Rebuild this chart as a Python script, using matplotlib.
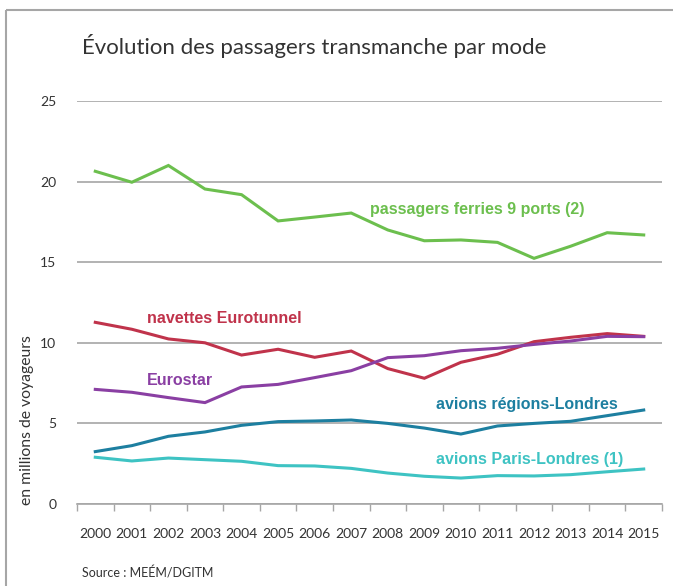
import numpy as np
import matplotlib.pyplot as plt
from matplotlib.lines import Line2D

# --- data ---
years = [str(y) for y in range(2000, 2016)]
ferries = [20.64, 19.96, 21.0, 19.54, 19.19, 17.56, 17.8, 18.05, 17.0, 16.33,
           16.38, 16.23, 15.24, 15.99, 16.83, 16.69]
eurotunnel = [11.27, 10.84, 10.24, 10.0, 9.24, 9.6, 9.1, 9.49, 8.4, 7.8,
              8.79, 9.29, 10.07, 10.34, 10.57, 10.4]
eurostar = [7.11, 6.93, 6.6, 6.29, 7.26, 7.42, 7.84, 8.27, 9.08, 9.2,
            9.51, 9.66, 9.9, 10.11, 10.4, 10.38]
avions_regions = [3.25, 3.62, 4.2, 4.47, 4.88, 5.11, 5.15, 5.21, 5.0, 4.71,
                  4.34, 4.84, 5.0, 5.13, 5.48, 5.83]
avions_paris = [2.9, 2.67, 2.85, 2.75, 2.65, 2.38, 2.36, 2.21, 1.92, 1.72,
                1.61, 1.76, 1.74, 1.82, 2.0, 2.17]
y_ticks = [0, 5, 10, 15, 20, 25]

series = [
    (ferries, "#6cbf4e", "passagers ferries 9 ports (2)", 7.5, 18.3),
    (eurotunnel, "#c0334b", "navettes Eurotunnel", 1.42, 11.5),
    (eurostar, "#8a3fa3", "Eurostar", 1.42, 7.65),
    (avions_regions, "#1d7fa0", "avions régions-Londres", 9.33, 6.2),
    (avions_paris, "#3ec3c3", "avions Paris-Londres (1)", 9.33, 2.75),
]

W, H = 673, 586
fig = plt.figure(figsize=(W / 100, H / 100), dpi=100)

# axes placed in pixel coordinates of the reference
ax_l, ax_r, ax_t, ax_b = 77, 662, 101, 504
ax = fig.add_axes([ax_l / W, 1 - ax_b / H, (ax_r - ax_l) / W, (ax_b - ax_t) / H])

x = np.arange(len(years))
for vals, col, lab, lx, ly in series:
    ax.plot(x, vals, color=col, lw=2.2, solid_joinstyle="miter")
    ax.text(lx, ly, lab, color=col, fontsize=11.5, fontweight="bold",
            family="Liberation Sans", va="center", ha="left")

ax.set_xlim(-0.5, len(years) - 0.5)
ax.set_ylim(0, 25)
ax.set_yticks(y_ticks)
ax.set_yticklabels([str(v) for v in y_ticks], family="Lato", fontsize=10, color="#333333")
ax.tick_params(axis="y", length=0, pad=15)
ax.yaxis.grid(True, color="#a6a6a6", lw=1.2)
ax.set_axisbelow(True)

# x axis: labels under each year, ticks on category boundaries
ax.set_xticks(x)
ax.set_xticklabels(years, family="Lato", fontsize=10, color="#333333")
ax.tick_params(axis="x", length=0, pad=17)
ax.set_xticks(np.arange(-0.5, len(years)), minor=True)
ax.tick_params(axis="x", which="minor", length=5, color="#a6a6a6", width=1)

for s in ["top", "right", "left"]:
    ax.spines[s].set_visible(False)
ax.spines["bottom"].set_color("#a6a6a6")
ax.spines["bottom"].set_linewidth(1.2)

# texts
fig.text(82 / W, 1 - 46 / H, "Évolution des passagers transmanche par mode",
         family="Lato", fontsize=16, color="#333333", va="center", ha="left")
fig.text(27 / W, 1 - 420 / H, "en millions de voyageurs", rotation=90,
         family="Lato", fontsize=11.3, color="#333333", va="center", ha="center")
fig.text(82 / W, 1 - 573 / H, "Source : MEÉM/DGITM",
         family="Lato", fontsize=9, color="#333333", va="center", ha="left")

# frame lines (top and left) of the original panel
fig.add_artist(Line2D([6 / W, 1], [1 - 10 / H, 1 - 10 / H], color="#a6a6a6",
                      lw=1.5, solid_capstyle="butt"))
fig.add_artist(Line2D([6 / W, 6 / W], [0, 1 - 10 / H], color="#a6a6a6",
                      lw=1.5, solid_capstyle="butt"))

fig.savefig("out.png", dpi=100)
